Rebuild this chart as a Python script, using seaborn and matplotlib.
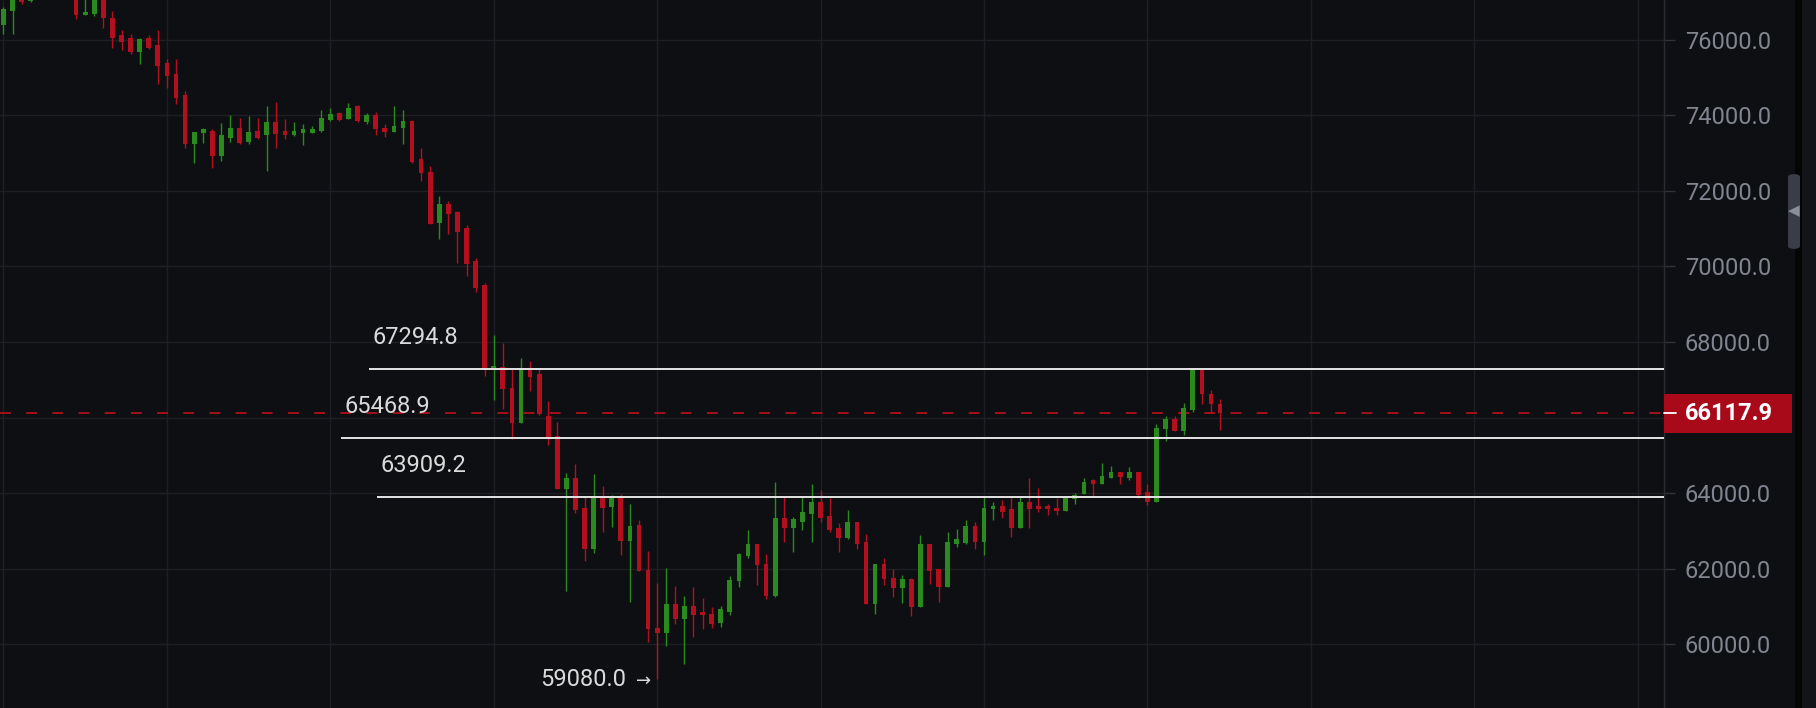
import numpy as np
import pandas as pd
import matplotlib
matplotlib.use('Agg')
import matplotlib.pyplot as plt
import matplotlib.transforms as mtransforms
from matplotlib.patches import Rectangle, FancyBboxPatch
import seaborn as sns

# OHLC per candle, oldest first
opens = [76386, 76757, 77300, 77021, 77300, 77500, 77350, 77450, 77300, 76651,
         76685, 77200, 76579, 76122, 76032, 75680, 76032, 75847, 75389, 75098,
         74524, 73246, 73537, 73582, 72921, 73405, 73669, 73299, 73582, 73476,
         73828, 73582, 73476, 73537, 73537, 73582, 73881, 74058, 73889, 74243,
         73828, 74005, 73669, 73563, 73669, 73847, 72831, 72505, 71156, 71659,
         71447, 71005, 70143, 69508, 67267, 67339, 66791, 65865, 67275, 67143,
         66050, 65513, 64100, 64410, 63616, 62513, 63926, 63635, 63881, 62735,
         63159, 61958, 60442, 60310, 61058, 60661, 61016, 60865, 60794, 60574,
         60865, 61677, 62339, 62664, 62135, 61280, 63352, 63087, 63246, 63458,
         63775, 63397, 63087, 62823, 63246, 62717, 61077, 62135, 61765, 61500,
         61720, 60989, 62664, 61984, 61519, 62664, 62690, 63132, 62717, 63571,
         63661, 63571, 63087, 63775, 63661, 63661, 63616, 63518, 63836, 63968,
         64339, 64251, 64410, 64569, 64392, 64569, 64040, 63775, 65688, 65952,
         65645, 66190, 67280, 66632, 66368]
highs = [76863, 77400, 77400, 77400, 77600, 77700, 77550, 77650, 77400, 77300,
         77350, 77300, 76757, 76243, 76156, 76050, 76122, 76243, 75476, 75476,
         74640, 73563, 73669, 73624, 73802, 74005, 73915, 73979, 73934, 74243,
         74357, 73889, 73828, 73775, 73722, 74127, 74180, 74093, 74331, 74270,
         74066, 74093, 73757, 74243, 74127, 73881, 73140, 72656, 71862, 71730,
         71465, 71095, 70212, 69569, 68185, 67981, 67275, 67566, 67497, 67275,
         66439, 65892, 64542, 64780, 63926, 64516, 64190, 63952, 63987, 63722,
         63280, 62471, 61614, 62029, 61545, 61280, 61519, 61217, 60989, 61016,
         61810, 62426, 63016, 62664, 62381, 64304, 63899, 63370, 63899, 64233,
         64074, 63862, 63220, 63545, 63246, 62929, 62135, 62294, 61984, 61836,
         61765, 62894, 62664, 61984, 62982, 63042, 63280, 63246, 63926, 63775,
         63810, 63899, 63926, 64410, 64127, 63704, 63862, 63926, 64013, 64392,
         64365, 64807, 64720, 64569, 64693, 64569, 64251, 65820, 66042, 66042,
         66394, 67294.8, 67294.8, 66720, 66481]
lows = [76156, 76138, 76950, 76980, 77200, 77250, 77180, 77160, 76534, 76651,
        76624, 76315, 75786, 75714, 75627, 75362, 75741, 74815, 74709, 74286,
        73122, 72743, 73273, 72611, 72788, 73299, 73228, 73228, 73360, 72524,
        73140, 73360, 73450, 73212, 73537, 73563, 73847, 73847, 73889, 73828,
        73775, 73476, 73423, 73563, 73246, 72743, 72259, 71111, 70714, 70865,
        70098, 69746, 69331, 67101, 66455, 66217, 65423, 65865, 66704, 66069,
        65275, 64100, 61413, 63484, 62206, 62426, 62982, 63106, 62365, 61130,
        61942, 60071, 59080, 59958, 60548, 59489, 60196, 60397, 60423, 60460,
        60778, 61519, 62275, 61571, 61190, 61254, 62717, 62452, 63016, 62717,
        63246, 62982, 62452, 62778, 62513, 61077, 60812, 61571, 61254, 61103,
        60751, 60989, 61606, 61130, 61519, 62577, 62664, 62513, 62365, 63280,
        63333, 62841, 63087, 63069, 63511, 63423, 63423, 63518, 63722, 63968,
        63926, 64251, 64392, 64233, 64339, 63881, 63688, 63775, 65381, 65635,
        65540, 66156, 66368, 66130, 65661]
closes = [76799, 77250, 77003, 77250, 77500, 77350, 77450, 77300, 76651, 76738,
          77200, 76561, 76050, 75944, 75680, 76016, 75767, 75301, 75037, 74463,
          73228, 73563, 73624, 72921, 73466, 73669, 73273, 73563, 73405, 73828,
          73511, 73476, 73582, 73624, 73624, 73934, 74040, 73881, 74198, 73847,
          74005, 73624, 73563, 73714, 73847, 72770, 72460, 71130, 71659, 71394,
          70918, 70071, 69437, 67275, 67373, 66746, 65865, 67275, 67074, 66085,
          65450, 64100, 64410, 63545, 62513, 63926, 63616, 63881, 62735, 63132,
          61942, 60397, 60310, 61058, 60661, 61016, 60778, 60778, 60548, 60926,
          61706, 62399, 62664, 62100, 61280, 63352, 63087, 63307, 63511, 63775,
          63333, 63016, 62823, 63246, 62664, 61077, 62135, 61720, 61500, 61720,
          60989, 62664, 61942, 61519, 62717, 62778, 63132, 62717, 63616, 63661,
          63511, 63087, 63775, 63571, 63571, 63571, 63529, 63889, 63952, 64304,
          64251, 64455, 64569, 64429, 64569, 63952, 63775, 65733, 65952, 65635,
          66262, 67280, 66614, 66349, 66117.9]

# horizontal ray drawings: price level and starting candle index
ray_levels = [67294.8, 65468.9, 63909.2]
ray_starts = [40.3, 37.2, 41.1]

last_price = 66117.9
low_idx = 72
low_price = 59080.0

y_ticks = [60000, 62000, 64000, 66000, 68000, 70000, 72000, 74000, 76000]

BG = '#0e0f13'
GRID = '#1d1f25'
GREEN = '#2b8a1e'
RED = '#b3101f'
LABEL = '#80858f'
TEXT = '#dadada'

sns.set_theme(style='darkgrid', rc={
    'axes.facecolor': BG, 'figure.facecolor': BG, 'grid.color': GRID,
    'grid.linewidth': 1.0, 'axes.edgecolor': '#2a2c33',
})
plt.rcParams['font.family'] = ['Roboto', 'DejaVu Sans']

df = pd.DataFrame({'open': opens, 'high': highs, 'low': lows, 'close': closes})
df['idx'] = np.arange(len(df))
df['color'] = np.where(df['close'] >= df['open'], GREEN, RED)
body_low = df[['open', 'close']].min(axis=1)
body_h = (df['close'] - df['open']).abs().clip(lower=35)

fig = plt.figure(figsize=(18.16, 7.08), dpi=100)
ax = fig.add_axes([0, 0, 1664 / 1816, 1])

x_max = 182.9
ax.set_xlim(-0.385, x_max)
ax.set_ylim(58315, 77045)

# candles
ax.vlines(df['idx'], df['low'], df['high'], colors=df['color'], linewidth=1.0, zorder=3)
ax.bar(df['idx'], body_h, bottom=body_low, width=0.52, color=df['color'], linewidth=0, zorder=4)

# grid
ax.set_xticks(np.arange(0, 181, 18))
ax.set_xticklabels([])
ax.tick_params(axis='x', length=0)
ax.set_yticks(y_ticks)
# the 66000 label sits under the last-price tag
ax.set_yticklabels(['' if t == 66000 else f'{t:.1f}' for t in y_ticks])
ax.yaxis.tick_right()
ax.tick_params(axis='y', length=8, pad=7, labelsize=17, labelcolor=LABEL, color='#2f3238', width=1)
ax.grid(True, color=GRID, linewidth=1.0, zorder=0)
for side in ['top', 'left', 'bottom']:
    ax.spines[side].set_visible(False)
ax.spines['right'].set(color='#2a2c33', linewidth=1.0)

# last price dashed line
ax.axhline(last_price, color='#b0111e', linewidth=1.3, dashes=(6, 8.5), zorder=2)

# rays with labels
for lvl, start in zip(ray_levels, ray_starts):
    ax.hlines(lvl, start, x_max, color='#e4e4e4', linewidth=1.4, zorder=5)
    ax.annotate(f'{lvl:.1f}', xy=(start, lvl), xytext=(2.5, 22.5), textcoords='offset points',
                ha='left', va='center', fontsize=17, color=TEXT, zorder=6)

# lowest low marker
ax.annotate(f'{low_price:.1f}', xy=(low_idx, low_price), xytext=(-22, -0.5),
            textcoords='offset points', ha='right', va='center', fontsize=17, color=TEXT,
            zorder=6)
ax.annotate('\u2192', xy=(low_idx, low_price), xytext=(-4, -1.5),
            textcoords='offset points', ha='right', va='center', fontsize=13, color=TEXT,
            family=['DejaVu Sans'], zorder=6)

# current price tag on the axis
trans = mtransforms.blended_transform_factory(ax.transAxes, ax.transData)
ax.add_patch(Rectangle((1.0, last_price - 516), 0.0769, 1032, transform=trans,
                       facecolor='#a80a1a', edgecolor='none', clip_on=False, zorder=10))
ax.plot([1.0, 1.0072], [last_price, last_price], transform=trans, color='white',
        linewidth=1.3, clip_on=False, zorder=11)
ax.text(1.0126, last_price, f'{last_price:.1f}', transform=trans, ha='left', va='center',
        fontsize=17, color='white', fontweight='bold', zorder=11)

# right-hand scrollbar strip
fig.patches.append(Rectangle((1795 / 1816, 0), 7 / 1816, 1, transform=fig.transFigure,
                             facecolor='#050506', edgecolor='none', zorder=1))
fig.patches.append(Rectangle((1802 / 1816, 0), 14 / 1816, 1, transform=fig.transFigure,
                             facecolor='#131418', edgecolor='none', zorder=1))
fig.patches.append(FancyBboxPatch((1788 / 1816, 1 - 249 / 708), 12 / 1816, 75 / 708,
                                  boxstyle='round,pad=0,rounding_size=0.004',
                                  transform=fig.transFigure, facecolor='#3a3d45',
                                  edgecolor='none', zorder=2))
fig.text(1794 / 1816, 1 - 211 / 708, '\u25c0', ha='center', va='center', fontsize=11,
         color='#8a8f99', family=['DejaVu Sans'])

fig.savefig('out.png', dpi=100, facecolor=BG)
